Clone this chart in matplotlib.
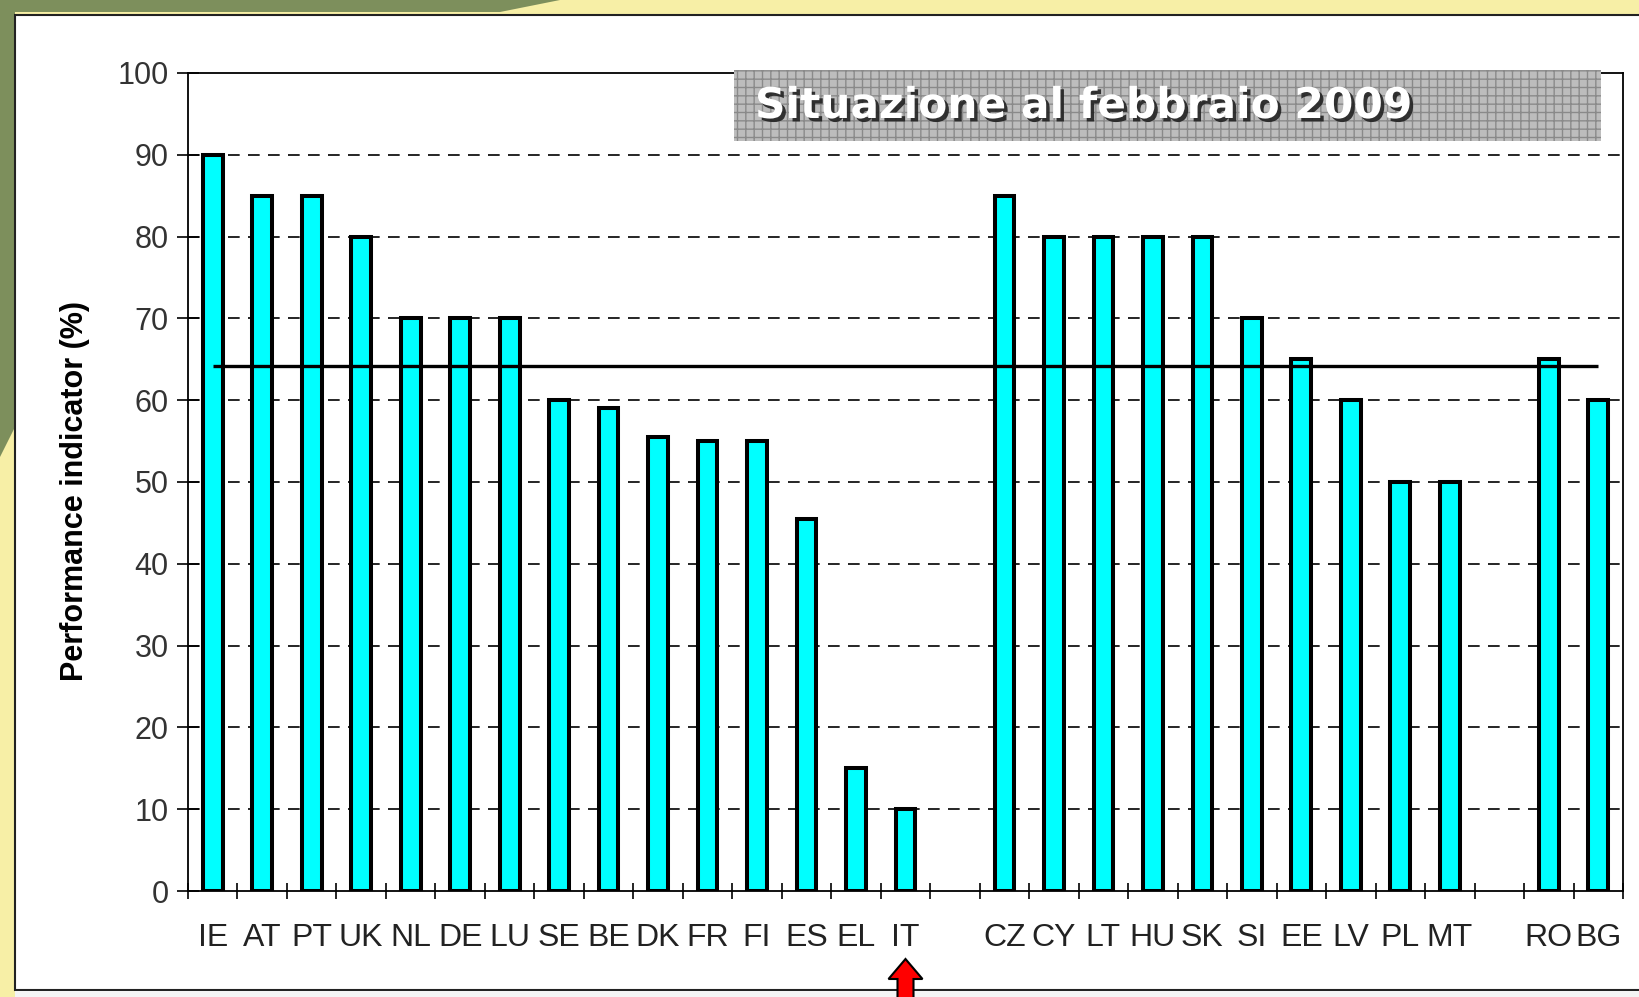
import numpy as np
import matplotlib
matplotlib.use("Agg")
import matplotlib.pyplot as plt
import matplotlib.patheffects as pe
from matplotlib.patches import Rectangle, Polygon
from matplotlib import font_manager

# data
labels_old = ['IE', 'AT', 'PT', 'UK', 'NL', 'DE', 'LU', 'SE', 'BE', 'DK', 'FR', 'FI', 'ES', 'EL', 'IT']
values_old = [90, 85, 85, 80, 70, 70, 70, 60, 59, 55.5, 55, 55, 45.5, 15, 10]
labels_new = ['CZ', 'CY', 'LT', 'HU', 'SK', 'SI', 'EE', 'LV', 'PL', 'MT']
values_new = [85, 80, 80, 80, 80, 70, 65, 60, 50, 50]
labels_late = ['RO', 'BG']
values_late = [65, 60]
average = 64.2
yticks = [0, 10, 20, 30, 40, 50, 60, 70, 80, 90, 100]
title = 'Situazione al febbraio 2009'
ylabel = 'Performance indicator (%)'

# one empty slot between groups
groups = [(labels_old, values_old), (labels_new, values_new), (labels_late, values_late)]
pos, labels, values = [], [], []
slot = 0
for labs, vals in groups:
    for l, v in zip(labs, vals):
        pos.append(slot)
        labels.append(l)
        values.append(v)
        slot += 1
    slot += 1
nslots = slot - 1

avail = {f.name for f in font_manager.fontManager.ttflist}
xfont = 'Liberation Sans Narrow' if 'Liberation Sans Narrow' in avail else 'Liberation Sans'

W, H = 1639, 997
fig = plt.figure(figsize=(W / 100, H / 100), dpi=100)
fig.patch.set_facecolor('#f7efa6')

# greenish slide background in the top-left corner
fig.add_artist(Polygon([(0, 1), (560 / W, 1), (500 / W, 985 / H), (15 / W, 985 / H),
                        (15 / W, 570 / H), (0, 540 / H)],
                       closed=True, transform=fig.transFigure, facecolor='#7d8f5c',
                       edgecolor='none', zorder=0))
# white slide frame
fig.add_artist(Rectangle((15 / W, 7 / H), 1.0, (982 - 7) / H, transform=fig.transFigure,
                         facecolor='white', edgecolor='#222222', linewidth=1.5, zorder=1))
fig.add_artist(Rectangle((15 / W, 0), 1.0, 6 / H, transform=fig.transFigure,
                         facecolor='#f4f4f4', edgecolor='none', zorder=1))

ax = fig.add_axes([188 / W, (H - 891) / H, (1623 - 188) / W, (891 - 73) / H])
ax.set_zorder(2)
ax.set_facecolor('white')

ax.bar(pos, values, width=0.40, color='#00ffff', edgecolor='black', linewidth=2.9, zorder=3)
ax.hlines(average, pos[0], pos[-1], color='black', linewidth=2.4, zorder=4)

for y in yticks[1:-1]:
    ax.axhline(y, color='black', linewidth=1.2, linestyle=(0, (7, 5)), zorder=1)

ax.set_xlim(-0.5, nslots - 0.5)
ax.set_ylim(0, 100)
ax.set_yticks(yticks)
ax.set_xticks(pos)
ax.set_xticklabels(labels, fontsize=23, family=[xfont, 'DejaVu Sans'], color='#222222')
ax.set_xticks(np.arange(-0.5, nslots), minor=True)
ax.tick_params(axis='x', which='major', length=0, pad=23)
ax.tick_params(axis='x', which='minor', direction='inout', length=11, width=1.2)
ax.tick_params(axis='y', direction='inout', length=16, width=1.2, pad=6,
               labelsize=22, labelcolor='#333333')
for t in ax.get_yticklabels():
    t.set_family(['Liberation Sans', 'DejaVu Sans'])
for s in ax.spines.values():
    s.set_linewidth(1.3)

fig.text(75 / W, (H - 491) / H, ylabel, rotation=90, ha='center', va='center',
         fontsize=22, fontweight='bold', family=['Liberation Sans', 'DejaVu Sans'], zorder=5)

# title box with grid pattern
plt.rcParams['hatch.color'] = '#8a8a8a'
fig.add_artist(Rectangle((734 / W, (H - 141) / H), (1601 - 734) / W, 71 / H,
                         transform=fig.transFigure, facecolor='#bdbdbd', edgecolor='#8a8a8a',
                         hatch='++', linewidth=0, zorder=5))
fig.text(755 / W, (H - 106) / H, title, ha='left', va='center', fontsize=30.5,
         fontweight='bold', color='white', family='DejaVu Sans', zorder=6,
         path_effects=[pe.withSimplePatchShadow(offset=(2.5, -2.5), shadow_rgbFace='#222222', alpha=0.9)])

# red arrow under IT
fig.canvas.draw()
it_x = ax.transData.transform((pos[labels.index('IT')], 0))[0]
tip = H - 959
head = H - 979
arrow = [(it_x, tip), (it_x + 17, head), (it_x + 8, head), (it_x + 8, -5),
         (it_x - 8, -5), (it_x - 8, head), (it_x - 17, head)]
fig.add_artist(Polygon(arrow, closed=True, transform=None, facecolor='#ff0000',
                       edgecolor='black', linewidth=1.5, zorder=7))

fig.savefig('out.png', dpi=100, facecolor=fig.get_facecolor())
